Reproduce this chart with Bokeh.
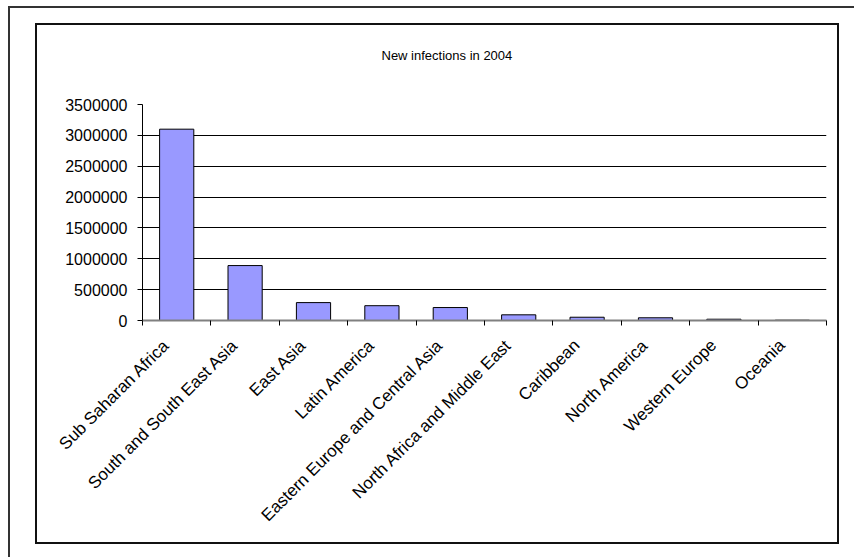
from math import pi
from bokeh.plotting import figure
from bokeh.models import (Range1d, LinearAxis, FixedTicker, InlineStyleSheet,
                          NumeralTickFormatter, ColumnDataSource)
from bokeh.embed import file_html
from bokeh.resources import INLINE

# ---- data ----
regions = ["Sub Saharan Africa", "South and South East Asia", "East Asia", "Latin America",
           "Eastern Europe and Central Asia", "North Africa and Middle East", "Caribbean",
           "North America", "Western Europe", "Oceania"]
new_infections = [3100000, 890000, 290000, 240000, 210000, 92000, 53000, 44000, 21000, 5000]
y_ticks = [0, 500000, 1000000, 1500000, 2000000, 2500000, 3000000, 3500000]
title_text = "New infections in 2004"

# ---- layout ----
W, H = 854, 557
FL, FR, FT, FB = 142, 826, 104, 320
FONT = "Liberation Sans"
LABEL_SHIFT = 0.15  # slot fraction, moves rotated labels back along their baseline

n = len(regions)
slot_centers = [i + 0.5 for i in range(n)]
slot_bounds = list(range(n + 1))
label_pos = [c - LABEL_SHIFT for c in slot_centers]

p = figure(width=W, height=H,
           x_range=Range1d(0, n),
           y_range=Range1d(0, y_ticks[-1]),
           output_backend="svg", toolbar_location=None,
           x_axis_location=None, y_axis_location="left",
           min_border_left=FL, min_border_right=W - FR,
           min_border_top=FT, min_border_bottom=H - FB)
p.outline_line_color = None
p.background_fill_color = "white"
p.border_fill_color = "white"

# bars
src = ColumnDataSource(dict(x=slot_centers, region=regions, value=new_infections))
p.vbar(x="x", top="value", width=0.5, source=src,
       fill_color="#9999FF", line_color="black", line_width=1)

# y axis
ya = p.yaxis[0]
ya.ticker = FixedTicker(ticks=y_ticks)
ya.formatter = NumeralTickFormatter(format="0")
ya.axis_line_color = "black"
ya.major_tick_line_color = "black"
ya.major_tick_in = 0
ya.major_tick_out = 5
ya.minor_tick_line_color = None
ya.major_label_text_font = FONT
ya.major_label_text_font_size = "16px"
ya.major_label_text_color = "black"
ya.major_label_standoff = 10

p.xgrid.visible = False
p.ygrid.ticker = FixedTicker(ticks=y_ticks)
p.ygrid.grid_line_color = "black"
p.ygrid.grid_line_width = 1

# x axis: tick marks at category boundaries
tick_axis = LinearAxis(ticker=FixedTicker(ticks=slot_bounds),
                       major_label_overrides={b: "" for b in slot_bounds},
                       major_label_text_font_size="1px", major_label_standoff=0,
                       axis_line_color="#808080", axis_line_width=2,
                       major_tick_line_color="black", major_tick_in=0, major_tick_out=5,
                       minor_tick_line_color=None)
p.add_layout(tick_axis, "below")

# x axis: category names
label_axis = LinearAxis(ticker=FixedTicker(ticks=label_pos),
                        major_label_overrides={c: r for c, r in zip(label_pos, regions)},
                        axis_line_color=None, major_tick_line_color=None,
                        minor_tick_line_color=None,
                        major_label_orientation=pi / 4,
                        major_label_text_font=FONT,
                        major_label_text_font_size="17px",
                        major_label_text_color="black",
                        major_label_standoff=11)
p.add_layout(label_axis, "below")

# title
p.title.text = title_text
p.title.align = "left"
p.title.offset = 381 - FL
p.title.standoff = 84
p.title.text_font = FONT
p.title.text_font_size = "13px"
p.title.text_font_style = "normal"
p.title.text_color = "black"

# outer sheet frame and inner chart-area frame (css overlays)
p.stylesheets = [InlineStyleSheet(css="""
:host { position: relative; }
:host::after {
  content: ""; position: absolute; left: 8px; top: 6px;
  width: 846px; height: 551px; box-sizing: border-box;
  border-left: 2px solid #333333; border-top: 2px solid #333333;
  pointer-events: none;
}
:host::before {
  content: ""; position: absolute; left: 35px; top: 23px;
  width: 804px; height: 521px; box-sizing: border-box;
  border: 2px solid #111111;
  pointer-events: none; z-index: 5;
}
""")]

open("out.html", "w").write(file_html(p, INLINE))
